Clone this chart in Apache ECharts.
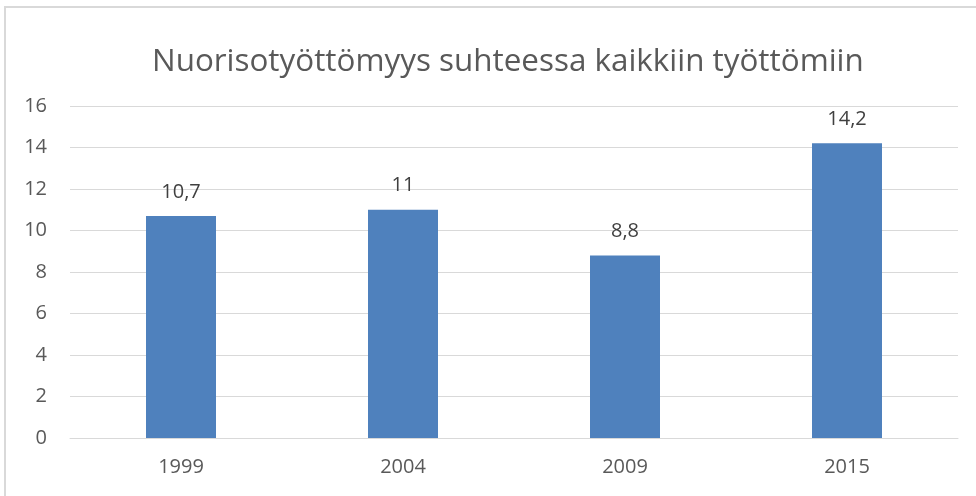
<!DOCTYPE html>
<html>
<head>
<meta charset="utf-8">
<script src="https://cdn.jsdelivr.net/npm/echarts@6/dist/echarts.min.js"></script>
<style>
  html, body { margin: 0; padding: 0; background: #fff; }
  #chart { width: 976px; height: 496px; }
</style>
</head>
<body>
<div id="chart"></div>
<script>
// data
var years = ['1999', '2004', '2009', '2015'];
var shares = [10.7, 11, 8.8, 14.2];
var yTicks = { min: 0, max: 16, step: 2 };
var chartTitle = 'Nuorisotyöttömyys suhteessa kaikkiin työttömiin';

var myChart = echarts.init(document.getElementById('chart'));

function commaNum(v) {
  return String(v).replace('.', ',');
}

var option = {
  backgroundColor: '#fff',
  textStyle: { fontFamily: 'Open Sans' },
  title: {
    text: chartTitle,
    left: 147,
    top: 42,
    textStyle: {
      color: '#595959',
      fontSize: 31.4,
      fontWeight: 'normal',
      fontFamily: 'Open Sans'
    }
  },
  // only the top and left edges of the chart frame show in the picture
  graphic: [{
    type: 'rect',
    shape: { x: 5, y: 7, width: 1100, height: 600 },
    style: { fill: null, stroke: '#D9D9D9', lineWidth: 2 },
    silent: true
  }],
  grid: { left: 70, right: 18, top: 106, bottom: 58 },
  xAxis: {
    type: 'category',
    data: years,
    axisLine: { lineStyle: { color: '#D9D9D9' } },
    axisTick: { show: false },
    axisLabel: { color: '#595959', fontSize: 20, margin: 19 }
  },
  yAxis: {
    type: 'value',
    min: yTicks.min,
    max: yTicks.max,
    interval: yTicks.step,
    axisLine: { show: false },
    axisTick: { show: false },
    axisLabel: { color: '#595959', fontSize: 20, margin: 23 },
    splitLine: { lineStyle: { color: '#D9D9D9', width: 1 } }
  },
  series: [{
    type: 'bar',
    data: shares,
    barWidth: 70,
    itemStyle: { color: '#4F81BD' },
    label: {
      show: true,
      position: 'top',
      distance: 14,
      color: '#404040',
      fontSize: 20,
      formatter: function (p) { return commaNum(p.value); }
    }
  }]
};

myChart.setOption(option);
</script>
</body>
</html>
